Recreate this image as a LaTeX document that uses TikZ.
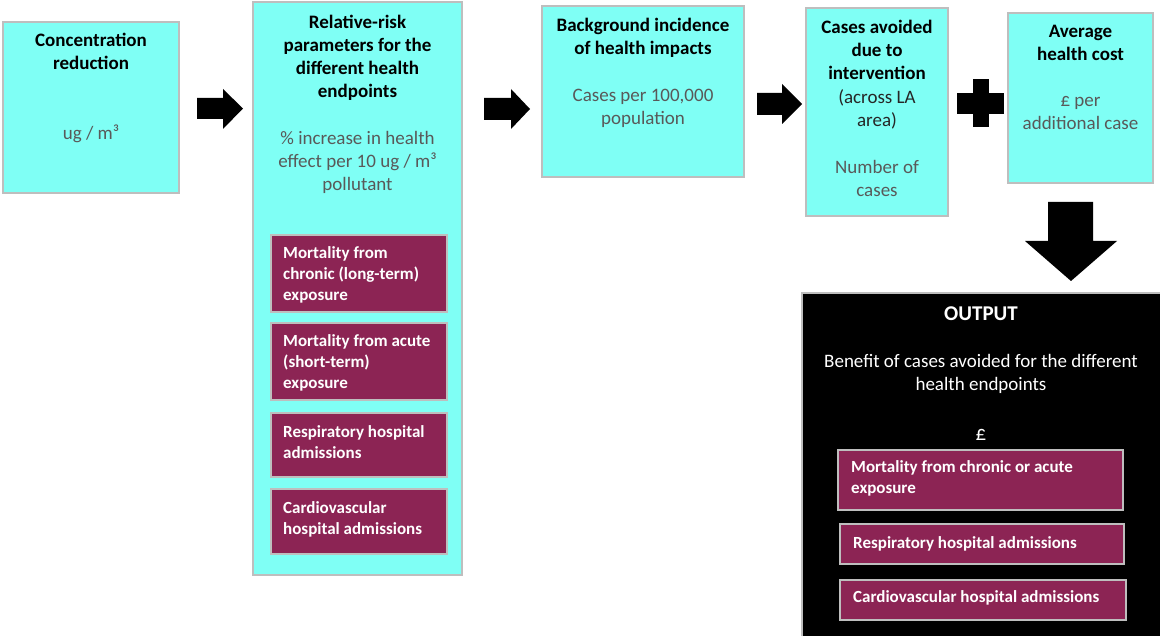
\documentclass[tikz,border=0pt]{standalone}
\usepackage{fontspec}
\setmainfont{Carlito}
\definecolor{aqua}{RGB}{127,255,245}
\definecolor{berry}{RGB}{140,36,84}
\definecolor{edge}{RGB}{190,190,190}
\definecolor{subtext}{RGB}{89,89,89}
\begin{document}
\begin{tikzpicture}[x=1pt,y=-1pt,
 cbox/.style={draw=edge, line width=1.5pt, fill=aqua, anchor=north west, inner sep=0pt, outer sep=0pt},
 mbox/.style={draw=edge, line width=1.2pt, fill=berry, anchor=north west, inner sep=0pt, outer sep=0pt},
 obox/.style={draw=edge, line width=1.5pt, fill=black, anchor=north west, inner sep=0pt, outer sep=0pt},
 ttl/.style={font=\fontsize{19}{23}\selectfont\bfseries, align=center, inner sep=0pt, text=black},
 sub/.style={font=\fontsize{19}{23}\selectfont, align=center, inner sep=0pt, text=subtext},
 wtxt/.style={font=\fontsize{17}{21}\selectfont\bfseries, align=left, text=white, anchor=west, inner sep=0pt},
 blk/.style={fill=black, draw=none}]
\useasboundingbox (0,0) rectangle (1160,636);

% Concentration reduction
\node[cbox, minimum width=176pt, minimum height=171pt] (conc) at (3,22) {};
\node[ttl] (concT) at (91,51) {Concentration\\reduction};
\node[sub] (concS) at (91,134) {ug / m³};

% Relative-risk
\node[cbox, minimum width=209pt, minimum height=573pt] (rr) at (253,2) {};
\node[ttl] (rrT) at (357.5,58) {Relative-risk\\parameters for the\\different health\\endpoints};
\node[sub] (rrS) at (357.5,162) {\% increase in health\\effect per 10 ug / m³\\pollutant};
\node[mbox, minimum width=176pt, minimum height=77pt] (rr1) at (271,235) {};
\node[wtxt] (rr1T) at (283,274.5) {Mortality from\\chronic (long-term)\\exposure};
\node[mbox, minimum width=176pt, minimum height=77pt] (rr2) at (271,323) {};
\node[wtxt] (rr2T) at (283,362.5) {Mortality from acute\\(short-term)\\exposure};
\node[mbox, minimum width=176pt, minimum height=64pt] (rr3) at (271,413) {};
\node[wtxt] (rr3T) at (283,442) {Respiratory hospital\\admissions};
\node[mbox, minimum width=176pt, minimum height=65pt] (rr4) at (271,489) {};
\node[wtxt] (rr4T) at (283,519) {Cardiovascular\\hospital admissions};

% Background incidence
\node[cbox, minimum width=202pt, minimum height=171pt] (bg) at (542,6) {};
\node[ttl] (bgT) at (643,38) {Background incidence\\of health impacts};
\node[sub] (bgS) at (643,108.5) {Cases per 100,000\\population};

% Cases avoided
\node[cbox, minimum width=142pt, minimum height=208pt] (ca) at (806,8) {};
\node[ttl] (caT) at (877,50) {Cases avoided\\due to\\intervention};
\node[sub, text=black!85] (caM) at (877,109.5) {(across LA\\area)};
\node[sub] (caS) at (877,178.5) {Number of\\cases};

% Average health cost
\node[cbox, minimum width=145pt, minimum height=170pt] (ah) at (1008,13) {};
\node[ttl] (ahT) at (1080.5,43) {Average\\health cost};
\node[sub] (ahS) at (1080.5,113.5) {£ per\\additional case};

% Output
\node[obox, minimum width=362pt, minimum height=350pt] (out) at (802,293) {};
\node[ttl, text=white, font=\fontsize{21}{25}\selectfont\bfseries] (outT) at (981,314) {OUTPUT};
\node[sub, text=white] (outS) at (981,374) {Benefit of cases avoided for the different\\health endpoints};
\node[sub, text=white, font=\fontsize{21}{25}\selectfont] (outP) at (981,435) {£};
\node[mbox, minimum width=285pt, minimum height=60pt] (o1) at (838,450) {};
\node[wtxt] (o1T) at (851,478.5) {Mortality from chronic or acute\\exposure};
\node[mbox, minimum width=284pt, minimum height=40pt] (o2) at (840,524) {};
\node[wtxt] (o2T) at (853,543.5) {Respiratory hospital admissions};
\node[mbox, minimum width=286pt, minimum height=40pt] (o3) at (840,580) {};
\node[wtxt] (o3T) at (853,597.5) {Cardiovascular hospital admissions};

% Block arrows
\fill[blk] (197,98) -- (223,98) -- (223,89) -- (243,108.5) -- (223,129) -- (223,119) -- (197,119) -- cycle;
\fill[blk] (484,98) -- (511,98) -- (511,89) -- (530,109) -- (511,129) -- (511,120) -- (484,120) -- cycle;
\fill[blk] (757,93) -- (782,93) -- (782,84) -- (802,104) -- (782,124) -- (782,115) -- (757,115) -- cycle;
\fill[blk] (957,93) rectangle (1004,114);
\fill[blk] (973,79) rectangle (989,127);
\fill[blk] (1048,202) -- (1093,202) -- (1093,241) -- (1117,241) -- (1071,281) -- (1025,241) -- (1048,241) -- cycle;
\end{tikzpicture}
\end{document}
